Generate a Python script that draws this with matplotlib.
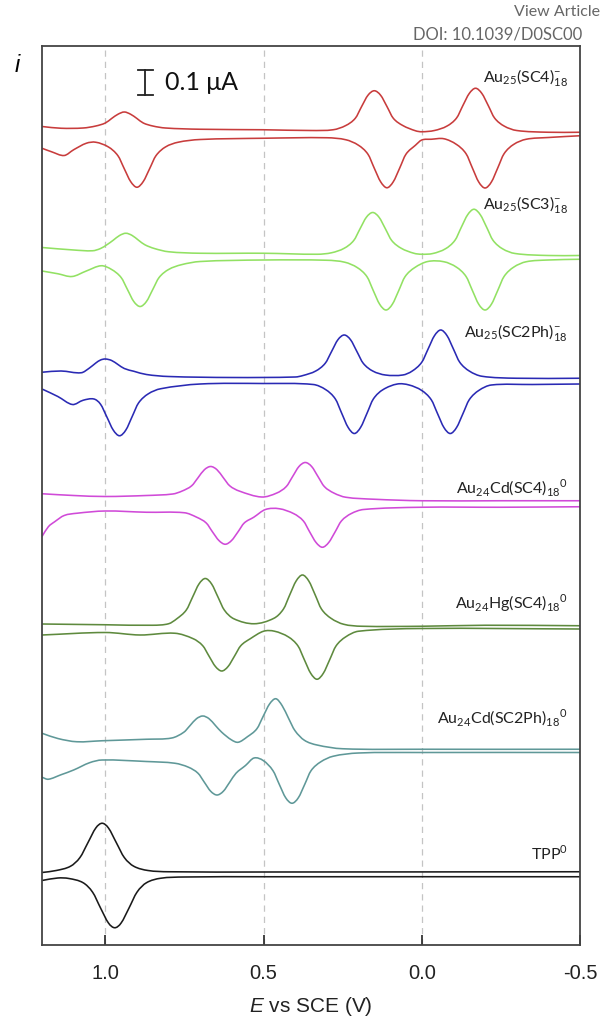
import matplotlib
matplotlib.use("Agg")
import matplotlib.pyplot as plt
from matplotlib.path import Path
from matplotlib.patches import PathPatch

plt.rcParams['mathtext.fontset'] = 'custom'
plt.rcParams['mathtext.rm'] = 'Lato'
plt.rcParams['mathtext.it'] = 'Liberation Sans:italic'

# DPV traces, E in V vs SCE, current in nA relative to each pair's own baseline
# Au25(SC4)18-
sc4_fwd_E = [1.20, 1.14, 1.07, 1.03, 1.00, 0.98, 0.96, 0.94, 0.92, 0.90, 0.88, 0.85, 0.81, 0.70, 0.50, 0.35, 0.28, 0.24, 0.21, 0.19,
             0.17, 0.15, 0.13, 0.11, 0.09, 0.06, 0.02, 0.00, -0.04, -0.08, -0.11, -0.13, -0.15, -0.17, -0.19, -0.21, -0.23, -0.26, -0.30, -0.40, -0.50]
sc4_fwd_i = [30, 23, 24, 32, 44, 62, 79, 88, 79, 62, 44, 32, 24, 19, 17, 14, 17, 34, 63, 110,
             155, 173, 155, 110, 63, 34, 13, 9, 14, 32, 64, 114, 162, 183, 162, 114, 64, 32, 14, 7, 7]
sc4_rev_E = [1.20, 1.17, 1.13, 1.10, 1.06, 1.03, 0.99, 0.96, 0.94, 0.92, 0.90, 0.88, 0.86, 0.84, 0.81, 0.77, 0.70, 0.50, 0.30, 0.24,
             0.20, 0.17, 0.15, 0.13, 0.11, 0.09, 0.07, 0.05, 0.02, 0.00, -0.03, -0.07, -0.11, -0.14, -0.16, -0.18, -0.20, -0.22, -0.24, -0.26,
             -0.29, -0.33, -0.40, -0.50]
sc4_rev_i = [-57, -71, -86, -63, -37, -33, -52, -87, -139, -190, -213, -190, -139, -87, -52, -33, -22, -17, -15, -23,
             -45, -81, -137, -191, -215, -191, -137, -81, -45, -24, -21, -19, -42, -79, -136, -192, -216, -192, -136, -79,
             -42, -21, -14, -7]

# Au25(SC3)18-
sc3_fwd_E = [1.20, 1.10, 1.04, 1.015, 0.995, 0.975, 0.955, 0.935, 0.915, 0.895, 0.875, 0.845, 0.80, 0.70, 0.50, 0.33, 0.285, 0.245, 0.215, 0.195,
             0.175, 0.155, 0.135, 0.115, 0.095, 0.065, 0.025, 0.00, -0.035, -0.075, -0.105, -0.125, -0.145, -0.165, -0.185, -0.205, -0.225, -0.255, -0.295, -0.40,
             -0.50]
sc3_fwd_i = [34, 24, 21, 30, 45, 63, 82, 91, 82, 63, 45, 30, 17, 11, 11, 7, 13, 31, 62, 109,
             155, 174, 155, 109, 62, 31, 11, 7, 10, 29, 63, 115, 165, 187, 165, 115, 63, 29, 10, 2,
             2]
sc3_rev_E = [1.20, 1.15, 1.105, 1.06, 1.013, 0.98, 0.95, 0.93, 0.91, 0.89, 0.87, 0.85, 0.83, 0.80, 0.76, 0.70, 0.50, 0.30, 0.243, 0.203,
             0.173, 0.153, 0.133, 0.113, 0.093, 0.073, 0.053, 0.023, -0.019, -0.07, -0.11, -0.14, -0.16, -0.18, -0.20, -0.22, -0.24, -0.26, -0.29, -0.33,
             -0.40, -0.50]
sc3_rev_i = [-60, -71, -82, -60, -39, -54, -86, -134, -182, -202, -182, -134, -86, -54, -35, -22, -16, -17, -25, -47,
             -83, -139, -193, -216, -193, -139, -83, -47, -22, -23, -45, -82, -138, -193, -216, -193, -138, -82, -45, -23,
             -16, -13]

# Au25(SC2Ph)18-
sc2ph_fwd_E = [1.20, 1.14, 1.076, 1.05, 1.03, 1.015, 1.00, 0.98, 0.96, 0.94, 0.91, 0.87, 0.80, 0.60, 0.40, 0.375, 0.335, 0.305, 0.285, 0.265,
               0.245, 0.225, 0.205, 0.185, 0.155, 0.115, 0.06, 0.03, 0.00, -0.02, -0.04, -0.06, -0.08, -0.10, -0.12, -0.15, -0.19, -0.30, -0.50]
sc2ph_fwd_i = [30, 35, 28, 47, 67, 79, 83, 77, 61, 45, 34, 21, 13, 9, 11, 17, 35, 66, 113, 160,
               179, 160, 113, 66, 35, 19, 19, 35, 70, 123, 176, 199, 176, 123, 70, 35, 14, 6, 6]
sc2ph_rev_E = [1.20, 1.15, 1.104, 1.07, 1.036, 1.015, 0.995, 0.975, 0.955, 0.935, 0.915, 0.895, 0.865, 0.825, 0.70, 0.50, 0.343, 0.303, 0.273, 0.253,
               0.233, 0.213, 0.193, 0.173, 0.153, 0.123, 0.077, 0.04, 0.00, -0.03, -0.05, -0.07, -0.09, -0.11, -0.13, -0.15, -0.18, -0.22, -0.35, -0.50]
sc2ph_rev_i = [-37, -67, -99, -82, -77, -98, -149, -201, -224, -201, -147, -93, -57, -36, -17, -15, -19, -40, -77, -134,
               -190, -215, -190, -134, -77, -40, -17, -21, -43, -80, -136, -191, -215, -191, -136, -80, -43, -21, -19, -17]

# Au24Cd(SC4)18 0
cdsc4_fwd_E = [1.20, 1.10, 1.00, 0.87, 0.787, 0.757, 0.727, 0.707, 0.687, 0.667, 0.647, 0.627, 0.607, 0.577, 0.506, 0.458, 0.428, 0.408, 0.388, 0.368,
               0.348, 0.328, 0.308, 0.278, 0.24, 0.15, 0.00, -0.25, -0.50]
cdsc4_fwd_i = [35, 28, 24, 28, 34, 46, 67, 99, 131, 144, 131, 99, 67, 46, 22, 38, 64, 104, 144, 160,
               144, 104, 64, 38, 21, 13, 7, 7, 7]
cdsc4_rev_E = [1.20, 1.18, 1.16, 1.13, 1.09, 1.00, 0.87, 0.75, 0.711, 0.681, 0.661, 0.641, 0.621, 0.601, 0.581, 0.561, 0.531, 0.494, 0.45, 0.404,
               0.374, 0.354, 0.334, 0.314, 0.294, 0.274, 0.254, 0.224, 0.184, 0.00, -0.25, -0.50]
cdsc4_rev_i = [-136, -97, -77, -52, -43, -34, -39, -41, -59, -82, -118, -152, -167, -152, -118, -82, -59, -28, -25, -45,
               -74, -118, -160, -179, -160, -118, -74, -45, -28, -19, -19, -17]

# Au24Hg(SC4)18 0
hgsc4_fwd_E = [1.20, 1.00, 0.85, 0.80, 0.774, 0.744, 0.724, 0.704, 0.684, 0.664, 0.644, 0.624, 0.594, 0.53, 0.467, 0.437, 0.417, 0.397, 0.377, 0.357,
               0.337, 0.317, 0.287, 0.247, 0.19, 0.00, -0.20, -0.50]
hgsc4_fwd_i = [20, 17, 15, 21, 41, 76, 128, 180, 202, 180, 128, 76, 41, 21, 43, 80, 137, 192, 216, 192,
               137, 80, 43, 19, 11, 11, 15, 13]
hgsc4_rev_E = [1.20, 1.00, 0.89, 0.78, 0.722, 0.692, 0.672, 0.652, 0.632, 0.612, 0.592, 0.572, 0.542, 0.50, 0.465, 0.421, 0.391, 0.371, 0.351, 0.331,
               0.311, 0.291, 0.271, 0.241, 0.20, 0.00, -0.50]
hgsc4_rev_i = [-24, -14, -24, -17, -39, -67, -109, -150, -168, -150, -109, -67, -39, -9, -9, -32, -68, -123, -177, -201,
               -177, -123, -68, -32, -9, 2, 0]

# Au24Cd(SC2Ph)18 0
cdsc2ph_fwd_E = [1.20, 1.15, 1.09, 1.01, 0.87, 0.79, 0.752, 0.732, 0.712, 0.692, 0.672, 0.652, 0.632, 0.602, 0.58, 0.551, 0.521, 0.501, 0.481, 0.461,
                 0.441, 0.421, 0.401, 0.371, 0.331, 0.25, 0.00, -0.50]
cdsc2ph_fwd_i = [73, 52, 39, 43, 49, 54, 77, 104, 131, 142, 131, 104, 77, 47, 37, 59, 91, 141, 190, 211,
                 183, 133, 84, 45, 26, 11, 9, 9]
cdsc2ph_rev_E = [1.20, 1.18, 1.14, 1.10, 1.05, 1.01, 0.87, 0.78, 0.737, 0.707, 0.687, 0.667, 0.647, 0.627, 0.607, 0.587, 0.557, 0.53, 0.50, 0.47,
                 0.45, 0.43, 0.41, 0.39, 0.37, 0.35, 0.32, 0.28, 0.20, 0.00, -0.50]
cdsc2ph_rev_i = [-103, -111, -93, -74, -45, -34, -40, -47, -63, -87, -123, -159, -174, -159, -123, -87, -56, -26, -37, -77,
                 -132, -185, -207, -185, -132, -77, -42, -19, -6, -4, -4]

# TPP0
tpp_fwd_E = [1.20, 1.155, 1.11, 1.08, 1.055, 1.03, 1.01, 0.99, 0.965, 0.94, 0.91, 0.865, 0.80, 0.50, -0.50]
tpp_fwd_i = [6, 14, 31, 66, 125, 184, 203, 184, 125, 66, 31, 14, 9, 8, 9]
tpp_rev_E = [1.20, 1.15, 1.115, 1.07, 1.04, 1.015, 0.99, 0.97, 0.95, 0.925, 0.90, 0.87, 0.825, 0.75, 0.50, -0.50]
tpp_rev_i = [-26, -16, -18, -35, -73, -136, -196, -215, -196, -136, -73, -35, -17, -12, -11, -11]

labels = [r'Au$_{25}$(SC4)$_{18}^{-}$', r'Au$_{25}$(SC3)$_{18}^{-}$', r'Au$_{25}$(SC2Ph)$_{18}^{-}$',
          r'Au$_{24}$Cd(SC4)$_{18}$$^{0}$', r'Au$_{24}$Hg(SC4)$_{18}$$^{0}$', r'Au$_{24}$Cd(SC2Ph)$_{18}$$^{0}$',
          r'TPP$^{0}$']
traces = [(sc4_fwd_E, sc4_fwd_i, sc4_rev_E, sc4_rev_i),
          (sc3_fwd_E, sc3_fwd_i, sc3_rev_E, sc3_rev_i),
          (sc2ph_fwd_E, sc2ph_fwd_i, sc2ph_rev_E, sc2ph_rev_i),
          (cdsc4_fwd_E, cdsc4_fwd_i, cdsc4_rev_E, cdsc4_rev_i),
          (hgsc4_fwd_E, hgsc4_fwd_i, hgsc4_rev_E, hgsc4_rev_i),
          (cdsc2ph_fwd_E, cdsc2ph_fwd_i, cdsc2ph_rev_E, cdsc2ph_rev_i),
          (tpp_fwd_E, tpp_fwd_i, tpp_rev_E, tpp_rev_i)]
colors = ['#c83c3c', '#92e163', '#2a2ab4', '#d04ad8', '#5e8a3e', '#5f9898', '#1a1a1a']
offsets = [3244, 2756, 2261, 1770, 1264, 774, 284]      # vertical stacking, nA
label_y = [3468, 2960, 2448, 1828, 1368, 912, 368]
scale_nA = 100


def smooth_path(xs, ys):
    # draw the read points as a smooth cubic curve through them, no extra data points
    n = len(xs)
    h = [xs[k + 1] - xs[k] for k in range(n - 1)]
    m = [(ys[1] - ys[0]) / h[0]]
    for k in range(1, n - 1):
        m.append((ys[k + 1] - ys[k - 1]) / (xs[k + 1] - xs[k - 1]))
    m.append((ys[-1] - ys[-2]) / h[-1])
    verts = [(xs[0], ys[0])]
    codes = [Path.MOVETO]
    for k in range(n - 1):
        verts += [(xs[k] + h[k] / 3, ys[k] + m[k] * h[k] / 3),
                  (xs[k + 1] - h[k] / 3, ys[k + 1] - m[k + 1] * h[k] / 3),
                  (xs[k + 1], ys[k + 1])]
        codes += [Path.CURVE4] * 3
    return Path(verts, codes)


fig = plt.figure(figsize=(6.02, 10.30), dpi=100)
ax = fig.add_axes([42 / 602, 1 - 945 / 1030, 538 / 602, 899 / 1030])

for xg in [1.0, 0.5, 0.0]:
    ax.axvline(xg, color='#c4c4c4', lw=0.9, ls=(0, (5, 4)), zorder=0)

for (fE, fi, rE, ri), c, off, lab, ly in zip(traces, colors, offsets, labels, label_y):
    for E, cur in [(fE, fi), (rE, ri)]:
        p = smooth_path(E, [v + off for v in cur])
        ax.add_patch(PathPatch(p, fill=False, edgecolor=c, lw=1.15))
    ax.text(-0.462, ly, lab, ha='right', va='center', fontsize=11.5, family='Lato', color='#222222')

# scale bar 0.1 uA
sb_x, sb_y = 0.874, 3400
ax.plot([sb_x, sb_x], [sb_y, sb_y + scale_nA], color='#222222', lw=1.3)
ax.plot([sb_x - 0.024, sb_x + 0.024], [sb_y, sb_y], color='#222222', lw=1.3)
ax.plot([sb_x - 0.024, sb_x + 0.024], [sb_y + scale_nA, sb_y + scale_nA], color='#222222', lw=1.3)
ax.text(0.81, sb_y + scale_nA / 2, '0.1 μA', ha='left', va='center', fontsize=18, family='Lato', color='#111111')

ax.set_xlim(1.2, -0.5)
ax.set_ylim(0, 3596)
ax.set_xticks([1.0, 0.5, 0.0, -0.5])
ax.set_xticklabels(['1.0', '0.5', '0.0', '-0.5'])
ax.set_yticks([])
ax.tick_params(axis='x', direction='in', length=7, width=1.2, pad=14, labelsize=14.5, colors='#222222')
for lbl in ax.get_xticklabels():
    lbl.set_family('Liberation Sans')
for sp in ax.spines.values():
    sp.set_color('#444444')
    sp.set_linewidth(1.3)
ax.set_xlabel(r'$E$ vs SCE (V)', fontsize=15, family='Liberation Sans', labelpad=8, color='#222222')

fig.text(15 / 602, 1 - 65 / 1030, 'i', fontsize=17, family='Liberation Sans', style='italic', va='center', ha='left')
fig.text(600 / 602, 1 - 12 / 1030, 'View Article', fontsize=11.5, family='Lato', color='#666666', ha='right', va='center')
fig.text(413 / 602, 1 - 34 / 1030, 'DOI: 10.1039/D0SC00', fontsize=12, family='Lato', color='#666666', ha='left', va='center')

fig.savefig('out.png', dpi=100)
